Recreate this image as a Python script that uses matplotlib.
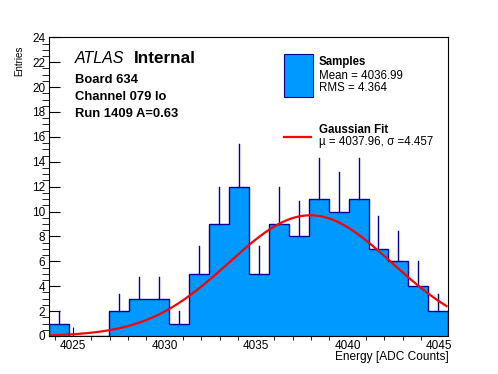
import matplotlib
matplotlib.use("Agg")
import matplotlib.pyplot as plt
import numpy as np
from matplotlib.patches import Rectangle
from matplotlib.lines import Line2D
from matplotlib.ticker import MultipleLocator

# histogram: 20 equal bins over the x range
x_lo, x_hi = 4023.7, 4045.5
counts = [1, 0, 0, 2, 3, 3, 1, 5, 9, 12, 5, 9, 8, 11, 10, 11, 7, 6, 4, 2]
# gaussian fit parameters
fit_mu, fit_sigma, fit_amp = 4037.96, 4.457, 9.7
info_lines = ["Board 634", "Channel 079 lo", "Run 1409 A=0.63"]

FILL, EDGE, RED = "#0099ff", "#000099", "#ff0000"
FONT = "Liberation Sans"
plt.rcParams["font.family"] = [FONT, "DejaVu Sans"]

W, H = 498, 374
fig = plt.figure(figsize=(W / 100, H / 100), dpi=100)
fig.patch.set_facecolor("white")


def px(x, y):
    return x / W, 1 - y / H


ax_l, ax_r, ax_t, ax_b = 49.3, 448.3, 37.3, 336.0
ax = fig.add_axes([ax_l / W, 1 - ax_b / H, (ax_r - ax_l) / W, (ax_b - ax_t) / H])

edges = np.linspace(x_lo, x_hi, len(counts) + 1)
centers = 0.5 * (edges[:-1] + edges[1:])
vals = np.array(counts, dtype=float)

ax.stairs(vals, edges, fill=True, color=FILL, zorder=2)
ax.stairs(vals, edges, color=EDGE, lw=1.0, zorder=3)
for c, v in zip(centers, vals):
    if v > 0:
        ax.plot([c, c], [v, v + np.sqrt(v)], color=EDGE, lw=1.0, zorder=3)

xs = np.linspace(x_lo + 0.1, x_hi - 0.1, 300)
ax.plot(xs, fit_amp * np.exp(-0.5 * ((xs - fit_mu) / fit_sigma) ** 2),
        color=RED, lw=1.6, zorder=4)

ax.set_xlim(x_lo, x_hi)
ax.set_ylim(0, 24)
ax.xaxis.set_major_locator(MultipleLocator(5))
ax.xaxis.set_minor_locator(MultipleLocator(1))
ax.yaxis.set_major_locator(MultipleLocator(2))
ax.yaxis.set_minor_locator(MultipleLocator(0.5))
ax.tick_params(direction="in", labelsize=8.5, pad=3, width=0.8, color="black")
ax.tick_params(axis="y", which="major", length=8)
ax.tick_params(axis="y", which="minor", length=4.8)
ax.tick_params(axis="x", which="major", length=6.5)
ax.tick_params(axis="x", which="minor", length=3)
for s in ax.spines.values():
    s.set_linewidth(0.8)

# ATLAS label and run info
fig.text(*px(75, 63.3), "ATLAS", style="italic", fontsize=11.5, va="baseline")
fig.text(*px(134, 63.3), "Internal", weight="bold", fontsize=12.3, va="baseline")
for i, line in enumerate(info_lines):
    fig.text(*px(75, 82.7 + 17.3 * i), line, weight="bold", fontsize=9.4, va="baseline")

# legend
fig.add_artist(Rectangle(px(284, 97.3), 28.7 / W, 43.3 / H, transform=fig.transFigure,
                         facecolor=FILL, edgecolor=EDGE, lw=0.8))
fig.text(*px(319, 65), "Samples", weight="bold", fontsize=8.3, va="baseline")
fig.text(*px(319, 79.3), "Mean = 4036.99", fontsize=8.3, va="baseline")
fig.text(*px(319, 90.7), "RMS = 4.364", fontsize=8.3, va="baseline")
x0, y0 = px(284, 136.7)
x1, _ = px(310.7, 136.7)
fig.add_artist(Line2D([x0, x1], [y0, y0], transform=fig.transFigure, color=RED, lw=1.6))
fig.text(*px(319, 133.3), "Gaussian Fit", weight="bold", fontsize=8.3, va="baseline")
fig.text(*px(319, 144.5), "\u00b5 = 4037.96, \u03c3 =4.457", fontsize=8.3, va="baseline")

# axis titles
fig.text(*px(19, 46), "Entries", rotation=90, ha="center", va="top", fontsize=7.0)
fig.text(*px(448.3, 360), "Energy [ADC Counts]", ha="right", va="baseline", fontsize=8.6)

fig.savefig("out.png", dpi=100, facecolor="white")
